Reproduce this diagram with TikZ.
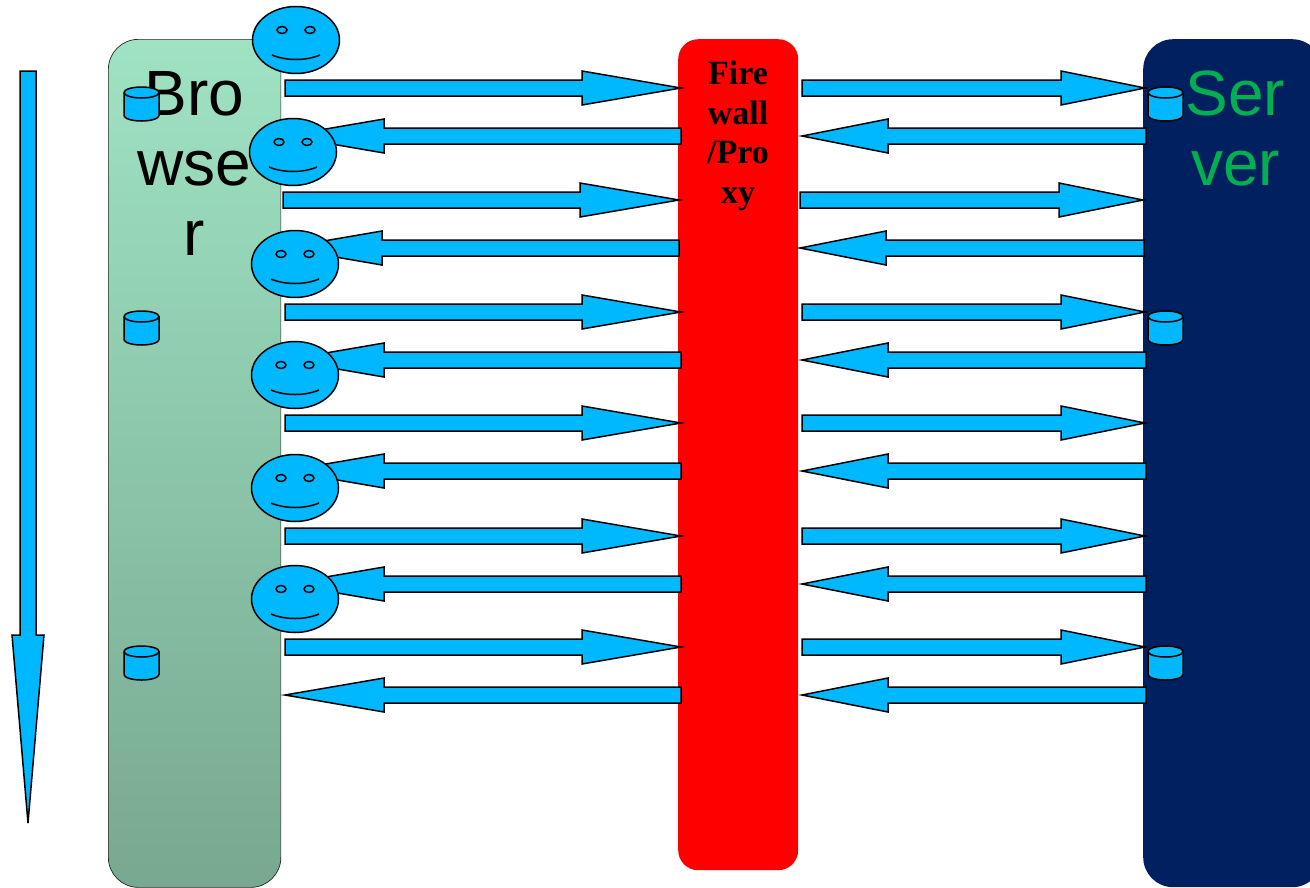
\documentclass[tikz,border=0pt]{standalone}
\usepackage{fontspec}
\setmainfont{Liberation Sans}
\newfontfamily\serifbold[BoldFont={Liberation Serif Bold}]{Liberation Serif}
\definecolor{bluefill}{HTML}{00B8FF}
\definecolor{browsertop}{HTML}{9FE3C3}
\definecolor{browserbot}{HTML}{78A890}
\definecolor{servernavy}{HTML}{002060}
\definecolor{servergreen}{HTML}{00B050}
\tikzset{
	shape line/.style={draw=black,line width=1.5pt,fill=bluefill,line join=miter},
	panel/.style={rectangle,inner sep=0pt,anchor=north west},
	bigtext/.style={align=center,font=\fontsize{64}{70}\selectfont,inner sep=0pt,anchor=base},
	walltext/.style={align=center,font=\fontsize{34}{39.5}\selectfont\serifbold\bfseries,inner sep=0pt,anchor=base}
}
% x1, x of head base, tip; drawn about the row line
\newcommand{\blockarrow}[3]{
	(#1,-8)--(#2,-8)--(#2,-17)--(#3,0)--(#2,17)--(#2,8)--(#1,8)--cycle
}
\begin{document}
\begin{tikzpicture}[x=1pt,y=-1pt]
	\clip (0,0) rectangle (1310,887);
	% time arrow
	\draw[shape line] (20,71)--(36,71)--(36,635)--(44,635)--(28,823)--(12,635)--(20,635)--cycle;
	% the three columns
	\node[panel,draw=black!85,line width=0.7pt,rounded corners=30pt,minimum width=172.5pt,minimum height=848pt,top color=browsertop,bottom color=browserbot] (browser) at (108,39) {};
	\node[panel,fill=red,rounded corners=20pt,minimum width=120pt,minimum height=831pt] (firewall) at (678,39) {};
	\node[panel,fill=servernavy,rounded corners=30pt,minimum width=179pt,minimum height=848pt] (server) at (1143,39) {};
	\node[bigtext] (browsertext) at (194.5,255) {Bro\\wse\\r};
	\node[bigtext,text=servergreen] (servertext) at (1235.5,185) {Ser\\ver};
	\node[walltext] (walltext) at (738,203) {Fire\\wall\\/Pro\\xy};
	% arrows, row by row
	\foreach \y/\d in {88/0,200/-2,312/0,423/0,536/0,647/0}{
		\draw[shape line,shift={(\d,\y)}] \blockarrow{285}{582}{681};
		\draw[shape line,shift={(\d,\y)}] \blockarrow{802}{1061}{1145};
	}
	\foreach \y/\d in {136/0,248/-2,360/0,471/0,584/0,695/0}{
		\draw[shape line,shift={(\d,\y)}] \blockarrow{681}{384}{285};
		\draw[shape line,shift={(\d,\y)}] \blockarrow{1146}{888}{802};
	}
	% faces
	\foreach \x/\y in {296/40,293/152,295/264,295/375,295/488,295/599}{
		\begin{scope}[shift={(\x,\y)}]
			\draw[shape line] (0,0) ellipse [x radius=43.5,y radius=33.5];
			\draw[shape line] (-14,-10) ellipse [x radius=5,y radius=3.5];
			\draw[shape line] (14,-10) ellipse [x radius=5,y radius=3.5];
			\draw[line width=1.5pt] (-24,15) .. controls (-10,21) and (10,21) .. (24,15);
		\end{scope}
	}
	% data stores
	\foreach \x/\y in {124/87,124/311,124/646,1148/87,1148/311,1148/646}{
		\begin{scope}[shift={(\x,\y)}]
			\draw[shape line] (0,5.5) arc [start angle=180,end angle=360,x radius=17.5,y radius=5.5]
				-- (35,28.5) arc [start angle=0,end angle=180,x radius=17.5,y radius=5.5] -- cycle;
			\draw[line width=1.5pt] (0,5.5) arc [start angle=180,end angle=0,x radius=17.5,y radius=5.5];
		\end{scope}
	}
\end{tikzpicture}
\end{document}
